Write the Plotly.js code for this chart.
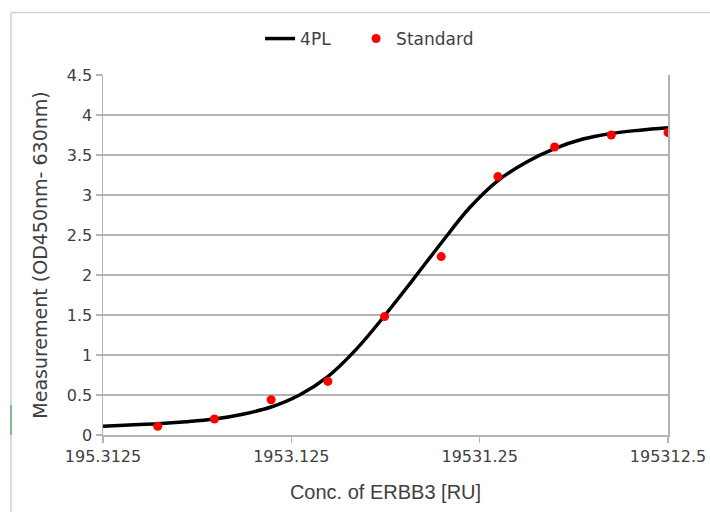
<!DOCTYPE html>
<html>
<head>
<meta charset="utf-8">
<script src="https://cdn.plot.ly/plotly-3.0.1.min.js"></script>
<style>
  html, body { margin: 0; padding: 0; background: #ffffff; }
  #chart { width: 710px; height: 512px; }
</style>
</head>
<body>
<div id="chart"></div>
<script>
// Standard points (concentration in RU, measured OD)
const standardConc = [381.4697265625, 762.939453125, 1525.87890625, 3051.7578125, 6103.515625,
                      12207.03125, 24414.0625, 48828.125, 97656.25, 195312.5];
const standardOD = [0.11, 0.20, 0.44, 0.67, 1.48, 2.23, 3.23, 3.60, 3.75, 3.78];

// 4PL fitted curve
const curveConc = [195.3125, 269.7, 381.47, 539.5, 762.94, 1079.0, 1525.88, 2157.9, 3051.76, 4315.8,
                   6103.5, 8631.7, 12207.03, 17263.3, 24414.06, 34526.7, 48828.125, 69053.4, 97656.25,
                   138106.8, 195312.5];
const curveOD = [0.11, 0.125, 0.14, 0.165, 0.20, 0.26, 0.35, 0.50, 0.73, 1.07,
                 1.49, 1.94, 2.40, 2.84, 3.18, 3.41, 3.58, 3.70, 3.77,
                 3.81, 3.84];

// Axis ticks
const xTickVals = [195.3125, 1953.125, 19531.25, 195312.5];
const xTickText = ["195.3125", "1953.125", "19531.25", "195312.5"];

const tickFont = { family: "DejaVu Sans", size: 16, color: "#404040" };

const traces = [
  {
    x: curveConc, y: curveOD, name: "4PL", type: "scatter", mode: "lines",
    line: { color: "#000000", width: 3.5, shape: "spline", smoothing: 1 },
    legend: "legend"
  },
  {
    x: standardConc, y: standardOD, name: "Standard", type: "scatter", mode: "markers",
    marker: { color: "#ff0000", size: 9 },
    legend: "legend2"
  }
];

const gray = "#b3b3b3";
const legendFont = { family: "DejaVu Sans", size: 17, color: "#404040" };
const layout = {
  width: 710, height: 512,
  paper_bgcolor: "#ffffff", plot_bgcolor: "#ffffff",
  margin: { l: 103, r: 42, t: 75, b: 77 },
  showlegend: true,
  legend: {
    orientation: "h", x: 0.278, xanchor: "left", y: 1.1, yanchor: "middle",
    font: legendFont, bgcolor: "rgba(0,0,0,0)", itemwidth: 30
  },
  legend2: {
    orientation: "h", x: 0.448, xanchor: "left", y: 1.1, yanchor: "middle",
    font: legendFont, bgcolor: "rgba(0,0,0,0)", itemwidth: 30
  },
  xaxis: {
    type: "log",
    range: [Math.log10(195.3125), Math.log10(195312.5)],
    tickmode: "array", tickvals: xTickVals, ticktext: xTickText,
    showgrid: false, zeroline: false,
    showline: true, linecolor: gray, linewidth: 1.5,
    ticks: "outside", ticklen: 6, tickcolor: gray, tickwidth: 1.5,
    tickfont: tickFont,
    title: { text: "Conc. of ERBB3 [RU]", font: { family: "Liberation Sans, Arial", size: 20, color: "#404040" }, standoff: 20 }
  },
  yaxis: {
    range: [0, 4.5], dtick: 0.5, tick0: 0,
    showgrid: true, gridcolor: gray, gridwidth: 1.5, zeroline: false,
    showline: true, linecolor: gray, linewidth: 1.5, mirror: true,
    ticks: "outside", ticklen: 6, tickcolor: gray, tickwidth: 1.5,
    tickfont: tickFont,
    title: { text: "Measurement (OD450nm- 630nm)", font: { family: "DejaVu Sans", size: 19, color: "#404040" }, standoff: 14 }
  },
  shapes: [
    { type: "line", xref: "paper", yref: "paper", x0: -0.1628, x1: 1.2, y0: 1.1736, y1: 1.1736,
      line: { color: "#d0d0d0", width: 1.5 } },
    { type: "line", xref: "paper", yref: "paper", x0: -0.1628, x1: -0.1628, y0: 1.1736, y1: -0.3,
      line: { color: "#d0d0d0", width: 1.5 } },
    { type: "line", xref: "paper", yref: "paper", x0: -0.1628, x1: -0.1628, y0: 0.083, y1: 0.0,
      line: { color: "#5fae7e", width: 1.5 } }
  ]
};

Plotly.newPlot("chart", traces, layout, { displayModeBar: false, staticPlot: true });
</script>
</body>
</html>
